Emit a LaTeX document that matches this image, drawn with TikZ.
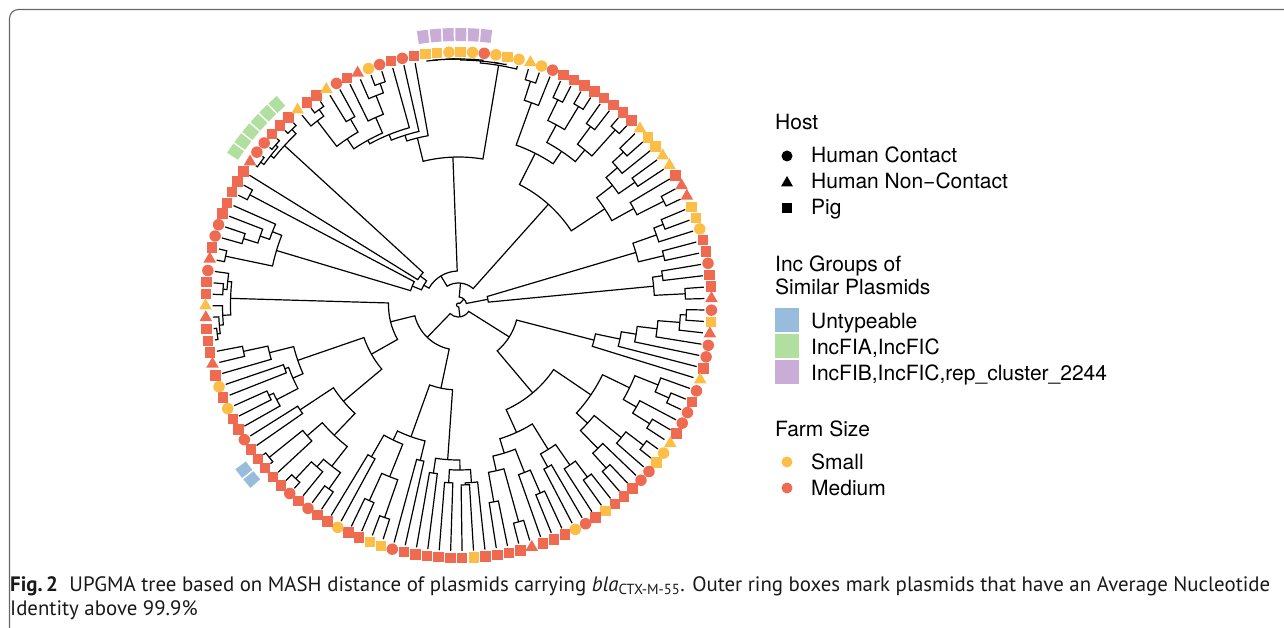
\documentclass[tikz,border=0pt]{standalone}
\usepackage{fontspec}
\setmainfont{TeX Gyre Heros}
\newfontfamily\capfont{PT Sans}
\usetikzlibrary{shapes.geometric}
\definecolor{colr}{HTML}{EE6A50}
\definecolor{coly}{HTML}{FDBE48}
\definecolor{colb}{HTML}{98BCDC}
\definecolor{colg}{HTML}{B0DFA0}
\definecolor{colp}{HTML}{CAADD6}
\newcount\leafc
\def\stp{2.666667}
% tree helpers: leaves are taken in clockwise order, radius measured from the root
\def\tleaf{\xdef\retpos{\the\leafc}\gdef\retrad{246}\global\advance\leafc by 1\relax}
\def\tnode#1#2#3{\begingroup #2\let\posA\retpos\let\radA\retrad #3\let\posB\retpos\let\radB\retrad
 \pgfmathsetmacro\angA{\posA*\stp-177.5}\pgfmathsetmacro\angB{\posB*\stp-177.5}%
 \draw[tree] (\angA:\radA) -- (\angA:#1) arc[start angle=\angA, end angle=\angB, radius=#1] -- (\angB:\radB);%
 \pgfmathsetmacro\midp{(\posA+\posB)/2}\xdef\retpos{\midp}\xdef\retrad{#1}\endgroup}
\def\tpair#1{\tnode{#1}{\tleaf}{\tleaf}}
\tikzset{
 tree/.style={line width=1.2pt, black, line join=miter},
 mks/.style={rectangle, minimum size=10.5pt, inner sep=0pt},
 mkc/.style={circle, minimum size=11.5pt, inner sep=0pt},
 mkt/.style={regular polygon, regular polygon sides=3, minimum size=14.5pt, inner sep=0pt},
 legtxt/.style={anchor=base west, inner sep=0pt, font=\fontsize{21}{25}\selectfont},
 captxt/.style={anchor=base west, inner sep=0pt, text=black!90}
}
\newcommand\capsize{\capfont\fontsize{20.85}{25}\selectfont}
\newcommand\ringbox[2]{\pgfmathsetmacro\rbA{#1*\stp-177.5-1.15}\pgfmathsetmacro\rbB{#1*\stp-177.5+1.15}%
 \fill[#2] (\rbA:264) arc[start angle=\rbA, end angle=\rbB, radius=264] -- (\rbB:277) arc[start angle=\rbB, end angle=\rbA, radius=277] -- cycle;}
\begin{document}
\begin{tikzpicture}[x=1pt,y=-1pt]
\useasboundingbox (0,0) rectangle (1284,628);
\draw[line width=1.1pt, black!60, rounded corners=9pt] (9.5,9.5) rectangle (1310,660);
\begin{scope}[shift={(458.5,305)}]
% ---------------- tree (leaf order starts at the 3 o'clock tip, index 67) ----------------
\global\leafc=67
\tnode{2}{%
 \tnode{12}{%
  \tnode{60}{%
   \tnode{140}{\tnode{165}{\tnode{180}{\tnode{200}{\tnode{222}{\tpair{228}}{\tleaf}}{\tleaf}}{\tleaf}}{\tleaf}}{\tleaf}%
  }{%
   \tnode{115}{%
    \tnode{160}{\tnode{190}{\tnode{215}{\tleaf}{\tpair{230}}}{\tnode{205}{\tleaf}{\tpair{225}}}}{\tnode{175}{\tnode{210}{\tpair{232}}{\tleaf}}{\tnode{200}{\tleaf}{\tpair{220}}}}%
   }{%
    \tnode{140}{\tnode{170}{\tnode{195}{\tpair{215}}{\tleaf}}{\tnode{185}{\tleaf}{\tleaf}}}{\tnode{155}{\tnode{180}{\tpair{205}}{\tleaf}}{\tnode{170}{\tpair{225}}{\tpair{200}}}}%
   }%
  }%
 }{%
  \tnode{45}{%
   \tnode{85}{%
    \tnode{155}{\tnode{165}{\tnode{178}{\tleaf}{\tpair{180}}}{\tpair{178}}}{\tnode{170}{\tleaf}{\tleaf}}%
   }{%
    \tnode{140}{\tnode{160}{\tleaf}{\tleaf}}{\tnode{150}{\tnode{185}{\tpair{225}}{\tpair{215}}}{\tnode{175}{\tleaf}{\tleaf}}}%
   }%
  }{%
   \tnode{70}{%
    \tnode{100}{%
     \tnode{150}{\tnode{180}{\tnode{205}{\tpair{225}}{\tnode{215}{\tleaf}{\tpair{238}}}}{\tnode{200}{\tleaf}{\tpair{243}}}}{\tnode{190}{\tleaf}{\tleaf}}%
    }{%
     \tnode{170}{\tnode{181}{\tnode{205}{\tleaf}{\tpair{210}}}{\tnode{185}{\tleaf}{\tleaf}}}{\tnode{195}{\tleaf}{\tnode{220}{\tleaf}{\tleaf}}}%
    }%
   }{%
    \tnode{228}{\tnode{236}{\tnode{240}{\tnode{243}{\tleaf}{\tleaf}}{\tleaf}}{\tleaf}}{\tnode{232}{\tpair{236}}{\tleaf}}%
   }%
  }%
 }%
}{%
 \tnode{8}{%
  \tnode{22}{%
   \tnode{34}{%
    \tnode{40}{%
     \tnode{50}{\tnode{190}{\tpair{238}}{\tnode{200}{\tnode{210}{\tpair{225}}{\tleaf}}{\tleaf}}}{\tpair{236}}%
    }{%
     \tnode{48}{\tleaf}{\tnode{236}{\tnode{240}{\tpair{244}}{\tpair{243}}}{\tpair{242}}}%
    }%
   }{%
    \tnode{148}{%
     \tnode{172}{%
      \tnode{178}{%
       \tnode{184}{%
        \tnode{188}{\tnode{200}{\tnode{232}{\tleaf}{\tpair{240}}}{\tnode{215}{\tleaf}{\tleaf}}}{\tnode{205}{\tleaf}{\tnode{225}{\tleaf}{\tpair{235}}}}%
       }{\tleaf}%
      }{\tleaf}%
     }{\tleaf}%
    }{%
     \tnode{243}{\tnode{245}{\tnode{246}{\tnode{246}{\tpair{246}}{\tpair{246}}}{\tpair{246}}}{\tpair{245}}}{\tleaf}%
    }%
   }%
  }{%
   \tnode{135}{%
    \tnode{170}{\tnode{215}{\tnode{235}{\tleaf}{\tleaf}}{\tleaf}}{\tnode{185}{\tnode{205}{\tpair{228}}{\tpair{232}}}{\tnode{200}{\tpair{222}}{\tpair{235}}}}%
   }{%
    \tnode{175}{\tnode{195}{\tnode{210}{\tpair{225}}{\tleaf}}{\tpair{215}}}{\tnode{200}{\tleaf}{\tpair{230}}}%
   }%
  }%
 }{%
  \tnode{30}{\tnode{185}{\tnode{210}{\tpair{220}}{\tleaf}}{\tpair{211}}}{\tnode{196}{\tpair{206}}{\tpair{227}}}%
 }%
}
% ---------------- ring boxes ----------------
\foreach \k in {119,120}{\ringbox{\k}{colb}}
\foreach \k in {12,...,17}{\ringbox{\k}{colg}}
\foreach \k in {30,...,35}{\ringbox{\k}{colp}}
% ---------------- tip markers ----------------
\foreach [count=\i from 0] \sh/\co in {s/r,s/r,c/r,t/r,s/r,c/r,c/r,s/r,s/r,s/r,s/r,s/r,t/r,c/r,c/r,s/r,s/r,s/r,t/y,s/r,s/r,t/y,c/r,s/r,t/r,c/y,c/r,s/r,c/r,s/r,s/y,s/y,c/y,s/y,c/y,c/r,c/y,s/y,c/y,t/y,c/y,c/r,s/r,s/r,s/r,s/r,s/r,s/r,s/r,s/r,t/y,s/y,s/y,t/y,t/y,s/r,t/r,t/r,s/y,s/y,c/y,s/r,s/r,c/r,s/r,s/r,t/r,c/r,s/y,t/r,c/r,c/r,s/r,t/y,c/r,s/r,c/r,c/r,s/r,t/y,c/y,s/y,c/r,c/r,s/r,s/r,s/r,s/y,s/r,c/r,c/y,s/r,s/r,s/r,t/r,s/r,s/r,s/r,s/r,s/y,s/r,s/r,s/r,s/r,s/r,s/r,c/r,s/y,s/y,s/r,s/r,c/y,s/r,s/r,c/r,s/r,c/r,s/r,s/r,s/r,s/r,s/r,c/r,s/r,s/r,c/y,s/r,c/y,s/r,t/r,s/r,s/r,s/r,t/r,t/y}
 {\pgfmathsetmacro\tipang{\i*\stp-177.5}
  \node[mk\sh, fill=col\co] (leaf\i) at (\tipang:253) {};}
\end{scope}
% ---------------- legend ----------------
\node[legtxt] (hostT) at (775,130) {Host};
\node[mkc, fill=black, minimum size=11pt] (hk1) at (787,156) {};
\node[legtxt] (hl1) at (811,163) {Human Contact};
\node[mkt, fill=black, minimum size=14pt] (hk2) at (787,183) {};
\node[legtxt] (hl2) at (811,189) {Human Non−Contact};
\node[mks, fill=black, minimum size=10pt] (hk3) at (787,208) {};
\node[legtxt] (hl3) at (811,215) {Pig};
\node[legtxt] (incT1) at (775,271) {Inc Groups of};
\node[legtxt] (incT2) at (775,294) {Similar Plasmids};
\fill[colb] (775,308) rectangle (799,332);
\fill[colg] (775,334) rectangle (799,358);
\fill[colp] (775,360) rectangle (799,384);
\node[legtxt] (il1) at (811,328) {Untypeable};
\node[legtxt] (il2) at (811,354) {IncFIA,IncFIC};
\node[legtxt] (il3) at (811,380) {IncFIB,IncFIC,rep\_cluster\_2244};
\node[legtxt] (farmT) at (775,436) {Farm Size};
\node[mkc, fill=coly, minimum size=11pt] (fk1) at (787,462) {};
\node[legtxt] (fl1) at (811,469) {Small};
\node[mkc, fill=colr, minimum size=11pt] (fk2) at (787,488) {};
\node[legtxt] (fl2) at (811,495) {Medium};
% ---------------- caption ----------------
\node[captxt] (cap1) at (10,591) {\capsize\textbf{Fig.\,2}\hspace{0.55em}UPGMA tree based on MASH distance of plasmids carrying \textit{bla}\textsubscript{CTX-M-55}. Outer ring boxes mark plasmids that have an Average Nucleotide};
\node[captxt] (cap2) at (10,615) {\capsize Identity above 99.9\%};
\end{tikzpicture}
\end{document}
